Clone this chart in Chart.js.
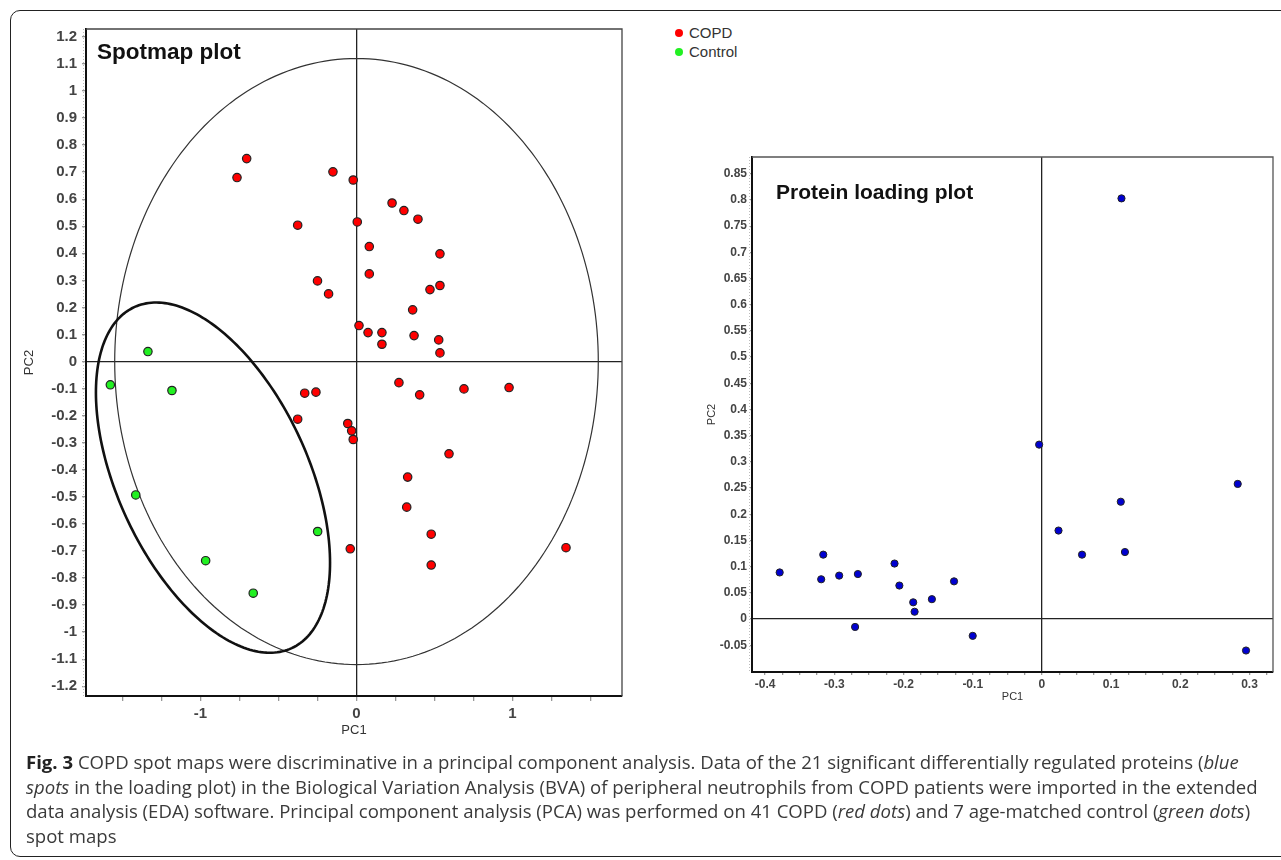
<!DOCTYPE html>
<html>
<head>
<meta charset="utf-8">
<script src="https://cdn.jsdelivr.net/npm/chart.js@4.4.0/dist/chart.umd.min.js"></script>
<style>
  body { margin: 0; background: #fff; width: 1281px; height: 860px; overflow: hidden; position: relative; font-family: 'Liberation Sans', Arial, sans-serif; }
  #frame { position: absolute; left: 10px; top: 10px; width: 1300px; height: 847px; border: 1.5px solid #222; border-radius: 10px; box-sizing: border-box; }
  #spot { position: absolute; left: 0; top: 0; }
  #load { position: absolute; left: 690px; top: 120px; }
  #legend { position: absolute; left: 675px; top: 23px; font-size: 15px; color: #333; line-height: 19px; }
  #legend span.dot { display: inline-block; width: 8px; height: 8px; border-radius: 50%; margin-right: 6px; vertical-align: 1px; }
  #caption { position: absolute; left: 26px; top: 750px; font-family: 'Open Sans', 'Noto Sans', sans-serif; color: #3a3a3a; font-size: 17px; line-height: 24.5px; white-space: nowrap; }
  #caption b { color: #222; }
</style>
</head>
<body>
<div id="frame"></div>
<canvas id="spot" width="640" height="760"></canvas>
<canvas id="load" width="591" height="600"></canvas>
<div id="legend"></div>
<div id="caption">
  <div id="cap1"><b>Fig. 3</b> COPD spot maps were discriminative in a principal component analysis. Data of the 21 significant differentially regulated proteins (<i>blue</i></div>
  <div id="cap2"><i>spots</i> in the loading plot) in the Biological Variation Analysis (BVA) of peripheral neutrophils from COPD patients were imported in the extended</div>
  <div id="cap3">data analysis (EDA) software. Principal component analysis (PCA) was performed on 41 COPD (<i>red dots</i>) and 7 age-matched control (<i>green dots</i>)</div>
  <div id="cap4">spot maps</div>
</div>
<script>
// ---- spotmap scores (PC1, PC2)
const copdPC1 = [-0.704, -0.766, -0.151, -0.021, 0.228, 0.304, 0.394, -0.377, 0.005, 0.082,
  0.535, 0.082, -0.250, -0.179, 0.471, 0.535, 0.360, 0.016, 0.074, 0.163,
  0.163, 0.369, 0.527, 0.535, 0.272, -0.332, -0.260, 0.405, 0.689, 0.978,
  -0.377, -0.056, -0.031, -0.021, 0.593, 0.328, 0.322, 0.479, -0.040, 0.479, 1.343];
const copdPC2 = [0.750, 0.680, 0.701, 0.671, 0.586, 0.558, 0.526, 0.504, 0.516, 0.425,
  0.398, 0.324, 0.298, 0.250, 0.266, 0.281, 0.191, 0.133, 0.107, 0.107,
  0.064, 0.096, 0.080, 0.032, -0.078, -0.117, -0.113, -0.123, -0.101, -0.096,
  -0.213, -0.229, -0.256, -0.288, -0.341, -0.427, -0.538, -0.638, -0.692, -0.752, -0.688];
const controlPC1 = [-1.337, -1.578, -1.183, -1.415, -0.967, -0.662, -0.249];
const controlPC2 = [0.037, -0.086, -0.107, -0.493, -0.736, -0.856, -0.628];

// ---- protein loadings (PC1, PC2)
const proteinPC1 = [-0.379, -0.316, -0.319, -0.293, -0.266, -0.270, -0.213, -0.206, -0.186, -0.184,
  -0.159, -0.127, -0.100, -0.004, 0.024, 0.058, 0.114, 0.120, 0.283, 0.295, 0.115];
const proteinPC2 = [0.089, 0.123, 0.076, 0.083, 0.086, -0.015, 0.106, 0.064, 0.032, 0.014,
  0.038, 0.072, -0.032, 0.333, 0.169, 0.123, 0.224, 0.128, 0.258, -0.060, 0.803];

// ---- ellipses (centre + two conjugate half-axes, data units)
const hotellingEllipse = { cx: 0, cy: 0, ux: 1.55, uy: 0, vx: 0, vy: 1.12 };
const controlEllipse = { cx: -0.920, cy: -0.429, ux: 0.505, uy: -0.630, vx: -0.555, vy: -0.148 };

// ---- ticks
const spotXTicks = [-1.5, -1.25, -1, -0.75, -0.5, -0.25, 0, 0.25, 0.5, 0.75, 1, 1.25, 1.5];
const spotXLabels = [-1, 0, 1];
const spotYTicks = [1.2, 1.1, 1, 0.9, 0.8, 0.7, 0.6, 0.5, 0.4, 0.3, 0.2, 0.1, 0,
  -0.1, -0.2, -0.3, -0.4, -0.5, -0.6, -0.7, -0.8, -0.9, -1, -1.1, -1.2];
const loadXTicks = [-0.4, -0.375, -0.35, -0.325, -0.3, -0.275, -0.25, -0.225, -0.2, -0.175, -0.15, -0.125,
  -0.1, -0.075, -0.05, -0.025, 0, 0.025, 0.05, 0.075, 0.1, 0.125, 0.15, 0.175, 0.2, 0.225, 0.25, 0.275, 0.3, 0.325];
const loadXLabels = [-0.4, -0.3, -0.2, -0.1, 0, 0.1, 0.2, 0.3];
const loadYTicks = [0.85, 0.8, 0.75, 0.7, 0.65, 0.6, 0.55, 0.5, 0.45, 0.4, 0.35, 0.3, 0.25, 0.2,
  0.15, 0.1, 0.05, 0, -0.05];

function toPts(xs, ys) { return xs.map((x, i) => ({ x: x, y: ys[i] })); }
function fmt(v) { return String(+v.toFixed(3)); }

// draws the ellipses, the frame, the dotted minor ticks and the in-plot title
const plotDecor = {
  id: 'plotDecor',
  beforeDatasetsDraw(chart, args, opts) {
    const { ctx, chartArea: a, scales } = chart;
    ctx.save();
    ctx.beginPath();
    ctx.rect(a.left, a.top, a.width, a.height);
    ctx.clip();
    (opts.ellipses || []).forEach(e => {
      ctx.beginPath();
      for (let i = 0; i <= 240; i++) {
        const t = i / 240 * Math.PI * 2;
        const px = scales.x.getPixelForValue(e.shape.cx + e.shape.ux * Math.cos(t) + e.shape.vx * Math.sin(t));
        const py = scales.y.getPixelForValue(e.shape.cy + e.shape.uy * Math.cos(t) + e.shape.vy * Math.sin(t));
        if (i === 0) ctx.moveTo(px, py); else ctx.lineTo(px, py);
      }
      ctx.closePath();
      ctx.lineWidth = e.width;
      ctx.strokeStyle = e.color;
      ctx.stroke();
    });
    ctx.restore();
  },
  afterDraw(chart, args, opts) {
    const { ctx, chartArea: a } = chart;
    ctx.save();
    ctx.strokeStyle = opts.frameColor;
    ctx.lineWidth = 1.3;
    ctx.beginPath();
    ctx.moveTo(a.left, a.top);
    ctx.lineTo(a.right, a.top);
    ctx.lineTo(a.right, a.bottom);
    ctx.stroke();
    // dotted look of the value axis
    ctx.strokeStyle = '#bbb';
    ctx.lineWidth = 1;
    ctx.setLineDash([1, 2]);
    ctx.beginPath();
    ctx.moveTo(a.left - 2.5, a.top);
    ctx.lineTo(a.left - 2.5, a.bottom);
    ctx.stroke();
    ctx.setLineDash([]);
    ctx.fillStyle = '#111';
    ctx.font = 'bold ' + opts.titleSize + 'px "Liberation Sans", Arial, sans-serif';
    ctx.textBaseline = 'middle';
    ctx.fillText(opts.title, a.left + opts.titleDx, a.top + opts.titleDy);
    ctx.restore();
  }
};

function axis(cfg) {
  return {
    type: 'linear',
    min: cfg.min,
    max: cfg.max,
    afterBuildTicks: s => { s.ticks = cfg.ticks.map(v => ({ value: v })); },
    afterFit: s => { if (cfg.width) s.width = cfg.width; if (cfg.height) s.height = cfg.height; },
    border: { display: true, color: '#111', width: 2 },
    grid: {
      drawOnChartArea: true,
      drawTicks: true,
      tickLength: cfg.tickLength,
      tickColor: '#999',
      color: c => (c.tick && c.tick.value === 0) ? '#222' : 'rgba(0,0,0,0)',
      lineWidth: 1.3
    },
    ticks: {
      autoSkip: false,
      maxRotation: 0,
      minRotation: 0,
      padding: cfg.padding,
      color: '#444',
      font: { family: '"Liberation Sans", Arial, sans-serif', size: cfg.fontSize, weight: 'bold' },
      callback: v => (cfg.labels && !cfg.labels.some(l => Math.abs(l - v) < 1e-9)) ? '' : fmt(v)
    },
    title: {
      display: true,
      text: cfg.title,
      color: '#333',
      padding: { top: 4, bottom: 4 },
      font: { family: '"Liberation Sans", Arial, sans-serif', size: cfg.titleSize }
    }
  };
}

new Chart(document.getElementById('spot'), {
  type: 'scatter',
  data: {
    datasets: [
      { label: 'COPD', data: toPts(copdPC1, copdPC2), backgroundColor: '#ff0000', borderColor: '#222', borderWidth: 1.2, pointRadius: 4.2 },
      { label: 'Control', data: toPts(controlPC1, controlPC2), backgroundColor: '#22f022', borderColor: '#222', borderWidth: 1.2, pointRadius: 4.2 }
    ]
  },
  options: {
    responsive: false,
    animation: false,
    layout: { padding: { left: 18, top: 29, right: 18, bottom: 18 } },
    plugins: {
      legend: { display: false },
      tooltip: { enabled: false },
      plotDecor: {
        ellipses: [
          { shape: hotellingEllipse, width: 1.2, color: '#333' },
          { shape: controlEllipse, width: 2.6, color: '#111' }
        ],
        frameColor: '#444', title: 'Spotmap plot', titleSize: 22.5, titleDx: 11, titleDy: 24
      }
    },
    scales: {
      x: axis({ min: -1.734, max: 1.702, ticks: spotXTicks, labels: spotXLabels, height: 46, tickLength: 5, padding: 4, fontSize: 15, title: 'PC1', titleSize: 13 }),
      y: axis({ min: -1.236, max: 1.229, ticks: spotYTicks, width: 68, tickLength: 4, padding: 5, fontSize: 15, title: 'PC2', titleSize: 13 })
    }
  },
  plugins: [plotDecor]
});

new Chart(document.getElementById('load'), {
  type: 'scatter',
  data: {
    datasets: [
      { label: 'Proteins', data: toPts(proteinPC1, proteinPC2), backgroundColor: '#0000d0', borderColor: '#222', borderWidth: 1, pointRadius: 3.6 }
    ]
  },
  options: {
    responsive: false,
    animation: false,
    layout: { padding: { left: 11, top: 37, right: 8, bottom: 12 } },
    plugins: {
      legend: { display: false },
      tooltip: { enabled: false },
      plotDecor: { ellipses: [], frameColor: '#555', title: 'Protein loading plot', titleSize: 21, titleDx: 24, titleDy: 36 }
    },
    scales: {
      x: axis({ min: -0.419, max: 0.334, ticks: loadXTicks, labels: loadXLabels, height: 36, tickLength: 3, padding: 2, fontSize: 12, title: 'PC1', titleSize: 11 }),
      y: axis({ min: -0.101, max: 0.882, ticks: loadYTicks, width: 51, tickLength: 2, padding: 3, fontSize: 12, title: 'PC2', titleSize: 11 })
    }
  },
  plugins: [plotDecor]
});

// legend for the spotmap groups
const groups = [['COPD', '#ff0000'], ['Control', '#22f022']];
document.getElementById('legend').innerHTML = groups.map(g =>
  '<div><span class="dot" style="background:' + g[1] + '"></span>' + g[0] + '</div>').join('');

// fit caption font so the second line spans the same width as in the figure
const cap = document.getElementById('caption');
const line2 = document.getElementById('cap2');
line2.style.display = 'inline-block';
const w = line2.getBoundingClientRect().width;
cap.style.fontSize = (17 * 1232 / w).toFixed(2) + 'px';
line2.style.display = 'block';
</script>
</body>
</html>
